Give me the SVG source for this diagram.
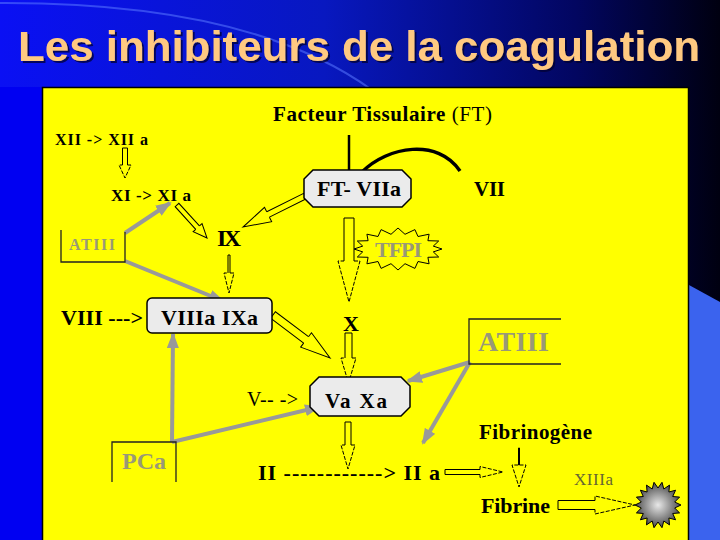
<svg xmlns="http://www.w3.org/2000/svg" width="720" height="540" viewBox="0 0 720 540">
<defs>
<linearGradient id="bg" x1="0" y1="0" x2="1" y2="0">
<stop offset="0" stop-color="#0a10f4"/>
<stop offset="0.45" stop-color="#0818c0"/>
<stop offset="0.8" stop-color="#020660"/>
<stop offset="1" stop-color="#000010"/>
</linearGradient>
<radialGradient id="sg" cx="0.5" cy="0.5" r="0.5">
<stop offset="0" stop-color="#e8e8e8"/>
<stop offset="1" stop-color="#4a4a4a"/>
</radialGradient>
<filter id="sh" x="-5%" y="-20%" width="110%" height="140%">
<feDropShadow dx="2" dy="2" stdDeviation="0.6" flood-color="#000033" flood-opacity="0.75"/>
</filter>
<marker id="gh" markerUnits="userSpaceOnUse" markerWidth="16" markerHeight="12" refX="14" refY="6" orient="auto">
<path d="M0,0 L16,6 L0,12 Z" fill="#999"/>
</marker>
<style>
.t{font-family:"Liberation Serif","Times New Roman",serif;font-weight:bold;fill:#000}
.n{font-weight:normal}
.g{fill:#999977}
.box{fill:#ebebeb;stroke:#000;stroke-width:1.5}
.fr{fill:none;stroke:#222;stroke-width:1.3}
.ha polygon{fill:#ffff00;stroke:none}
.ha path{fill:none;stroke:#000;stroke-width:1}
.ha path.h{stroke-dasharray:4 1.5}
.gl{fill:none;stroke:#999;stroke-width:4;marker-end:url(#gh)}
</style>
</defs>
<rect x="0" y="0" width="720" height="540" fill="url(#bg)"/>
<rect x="0" y="87" width="43" height="453" fill="#0000f2"/>
<polygon points="689,285 720,302 720,540 689,540" fill="#3b63ee"/>
<path d="M0,3 Q250,2 372,90" fill="none" stroke="#5a78ff" stroke-width="2" opacity="0.55"/>
<text x="18" y="61" font-family="Liberation Sans, Arial, sans-serif" font-weight="bold" font-size="42" fill="#ffc981" filter="url(#sh)" textLength="682" lengthAdjust="spacingAndGlyphs">Les inhibiteurs de la coagulation</text>
<rect x="42.5" y="87.5" width="646" height="460" fill="#ffff00" stroke="#000" stroke-width="1.5"/>

<g id="connectors">
<path d="M349,135 V173" stroke="#000" stroke-width="2.5" fill="none"/>
<path d="M362,172 C388,146 438,138 460,171" stroke="#000" stroke-width="3.5" fill="none"/>
<path class="gl" d="M125,233 L170,203"/>
<path class="gl" d="M125,261 L223,301"/>
<path class="gl" d="M172,442 L173,334"/>
<path class="gl" d="M172,442 L319,407"/>
<path class="gl" d="M470,362 L408,381"/>
<path class="gl" d="M470,362 L423,443"/>
<g class="ha" transform="translate(125,148) rotate(90)"><polygon points="0,-2.5 17,-2.5 17,-6 30,0 17,6 17,2.5 0,2.5"/><path d="M17,-2.5H0V2.5H17"/><path class="h" d="M17,-2.5V-6L30,0L17,6V2.5"/></g>
<g class="ha" transform="translate(177,205) rotate(47.7)"><polygon points="0,-2.5 30.6,-2.5 30.6,-6 44.6,0 30.6,6 30.6,2.5 0,2.5"/><path d="M30.6,-2.5H0V2.5H30.6"/><path d="M30.6,-2.5V-6L44.6,0L30.6,6V2.5"/></g>
<g class="ha" transform="translate(305,196) rotate(153.4)"><polygon points="0,-3 41.3,-3 41.3,-8 69.3,0 41.3,8 41.3,3 0,3"/><path d="M41.3,-3H0V3H41.3"/><path d="M41.3,-3V-8L69.3,0L41.3,8V3"/></g>
<g class="ha" transform="translate(349,218) rotate(90)"><polygon points="0,-5 43,-5 43,-11 84,0 43,11 43,5 0,5"/><path d="M43,-5H0V5H43"/><path class="h" d="M43,-5V-11L84,0L43,11V5"/></g>
<g class="ha" transform="translate(229,255) rotate(90)"><polygon points="0,-1 18,-1 18,-5 38,0 18,5 18,1 0,1"/><path d="M18,-1H0V1H18"/><path class="h" d="M18,-1V-5L38,0L18,5V1"/></g>
<g class="ha" transform="translate(273,315) rotate(37)"><polygon points="0,-4 41.4,-4 41.4,-9 71.4,0 41.4,9 41.4,4 0,4"/><path d="M41.4,-4H0V4H41.4"/><path d="M41.4,-4V-9L71.4,0L41.4,9V4"/></g>
<g class="ha" transform="translate(348.5,333) rotate(90)"><polygon points="0,-3.5 25,-3.5 25,-7.5 50,0 25,7.5 25,3.5 0,3.5"/><path d="M25,-3.5H0V3.5H25"/><path class="h" d="M25,-3.5V-7.5L50,0L25,7.5V3.5"/></g>
<g class="ha" transform="translate(348,422) rotate(90)"><polygon points="0,-3 23,-3 23,-7 47,0 23,7 23,3 0,3"/><path d="M23,-3H0V3H23"/><path class="h" d="M23,-3V-7L47,0L23,7V3"/></g>
<g class="ha" transform="translate(445,472)"><polygon points="0,-2.5 35,-2.5 35,-5.5 58,0 35,5.5 35,2.5 0,2.5"/><path d="M35,-2.5H0V2.5H35"/><path class="h" d="M35,-2.5V-5.5L58,0L35,5.5V2.5"/></g>
<g class="ha" transform="translate(519,448) rotate(90)"><polygon points="0,-0.5 17,-0.5 17,-7 39,0 17,7 17,0.5 0,0.5"/><path d="M17,-0.5H0V0.5H17"/><path class="h" d="M17,-0.5V-7L39,0L17,7V0.5"/></g>
<g class="ha" transform="translate(558,505)"><polygon points="0,-4.5 37,-4.5 37,-9 77,0 37,9 37,4.5 0,4.5"/><path d="M37,-4.5H0V4.5H37"/><path class="h" d="M37,-4.5V-9L77,0L37,9V4.5"/></g>
</g>

<g id="facteur-tissulaire"><text class="t" x="273" y="121" font-size="21" textLength="219">Facteur Tissulaire <tspan class="n">(FT)</tspan></text></g>
<g id="xii"><text class="t" x="55" y="145" font-size="16" textLength="93">XII -&gt; XII a</text></g>
<g id="xi"><text class="t" x="111" y="201" font-size="17" textLength="80">XI -&gt; XI a</text></g>
<g id="atiii-left"><path class="fr" d="M61,230 V262 H125 V232"/><text class="t g" x="69" y="250" font-size="16" textLength="46">ATIII</text></g>
<g id="ix"><text class="t" x="217" y="246" font-size="24" textLength="24">IX</text></g>
<g id="ft-viia"><polygon class="box" points="313,170 402,170 411,179 411,198 402,207 313,207 304,198 304,179"/><text class="t" x="317" y="196" font-size="22" textLength="84">FT- VIIa</text></g>
<g id="vii"><text class="t" x="474" y="196" font-size="21" textLength="31">VII</text></g>
<g id="tfpi"><polygon points="442,249 433.3,251.9 438.7,257 427.9,257.3 429.1,263.8 418,261.5 414.9,268.4 405,263.7 398,270 391,263.7 381.1,268.4 378,261.5 366.9,263.8 368.1,257.3 357.3,257 362.7,251.9 354,249 362.7,246.1 357.3,241 368.1,240.7 366.9,234.2 378,236.5 381.1,229.6 391,234.3 398,228 405,234.3 414.9,229.6 418,236.5 429.1,234.2 427.9,240.7 438.7,241 433.3,246.1" fill="#ffff00" stroke="#000" stroke-width="1"/><text class="t g" x="375" y="257" font-size="22" textLength="47">TFPI</text></g>
<g id="viii"><text class="t" x="61" y="325" font-size="22" textLength="82">VIII ---&gt;</text></g>
<g id="viiia-ixa"><rect class="box" x="147" y="298" width="125" height="35" rx="5"/><text class="t" x="161" y="325" font-size="22" textLength="97">VIIIa IXa</text></g>
<g id="x"><text class="t" x="343" y="331" font-size="22" textLength="14">X</text></g>
<g id="atiii-right"><path class="fr" d="M561,319 H469 V364 H561"/><text class="t g" x="478" y="351" font-size="28" textLength="71">ATIII</text></g>
<g id="v"><text class="t n" x="247" y="406" font-size="20" textLength="51">V-- -&gt;</text></g>
<g id="va-xa"><polygon class="box" points="319,377 401,377 410,386 410,407 401,416 319,416 310,407 310,386"/><text class="t" x="325" y="408" font-size="21" textLength="62">Va Xa</text></g>
<g id="pca"><path class="fr" d="M112,482 V442 H176 V482"/><text class="t g" x="122" y="469" font-size="24" textLength="44">PCa</text></g>
<g id="ii"><text class="t" x="258" y="480" font-size="22" textLength="182">II ------------&gt; II a</text></g>
<g id="fibrinogene"><text class="t" x="479" y="439" font-size="21" textLength="113">Fibrinogène</text></g>
<g id="xiiia"><text class="t n" x="574" y="485" font-size="17" style="fill:#666633" textLength="39">XIIIa</text></g>
<g id="fibrine"><text class="t" x="481" y="513" font-size="22" textLength="69">Fibrine</text></g>
<g id="caillot"><polygon points="681,505 674.7,508 679.6,512.9 672.7,513.5 675.6,519.8 668.9,518 669.5,524.9 663.8,521 662,527.7 658,522 654,527.7 652.2,521 646.5,524.9 647.1,518 640.4,519.8 643.3,513.5 636.4,512.9 641.3,508 635,505 641.3,502 636.4,497.1 643.3,496.5 640.4,490.2 647.1,492 646.5,485.1 652.2,489 654,482.3 658,488 662,482.3 663.8,489 669.5,485.1 668.9,492 675.6,490.2 672.7,496.5 679.6,497.1 674.7,502" fill="url(#sg)" stroke="#000" stroke-width="1"/></g>
</svg>
